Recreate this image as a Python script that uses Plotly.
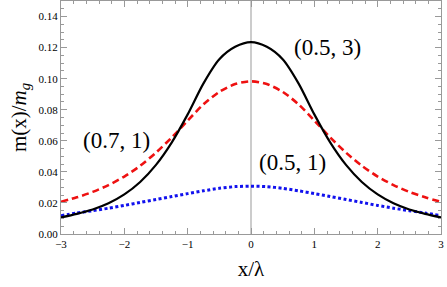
import plotly.graph_objects as go

# x positions (x/lambda)
x_vals = [-3.0, -2.75, -2.5, -2.25, -2.0, -1.75, -1.5, -1.25, -1.0, -0.75, -0.5, -0.25,
          0.0, 0.25, 0.5, 0.75, 1.0, 1.25, 1.5, 1.75, 2.0, 2.25, 2.5, 2.75, 3.0]

# half profiles (x = 0 .. 3), curves are symmetric
black_half = [0.1235, 0.1205, 0.1125, 0.097, 0.077, 0.059, 0.0445, 0.0335, 0.0255, 0.0198, 0.0158, 0.0130, 0.0107]
red_half = [0.0983, 0.0965, 0.0915, 0.0835, 0.073, 0.0622, 0.0524, 0.0439, 0.0370, 0.0315, 0.0271, 0.0236, 0.0207]
blue_half = [0.0308, 0.0305, 0.0294, 0.0278, 0.026, 0.0241, 0.0222, 0.0203, 0.0184, 0.0166, 0.0150, 0.0135, 0.0118]

black_y = black_half[::-1] + black_half[1:]
red_y = red_half[::-1] + red_half[1:]
blue_y = blue_half[::-1] + blue_half[1:]

labels = ["(0.5, 3)", "(0.7, 1)", "(0.5, 1)"]
label_x = [1.2, -2.13, 0.65]
label_y = [0.120, 0.0605, 0.0458]

x_ticks = [-3, -2, -1, 0, 1, 2, 3]
y_ticks = [0.00, 0.02, 0.04, 0.06, 0.08, 0.10, 0.12, 0.14]

font = "Liberation Serif"

fig = go.Figure()
fig.add_trace(go.Scatter(x=x_vals, y=red_y, mode="lines", line=dict(color="#ee1111", width=2.6, dash="7px,4px", shape="spline", smoothing=0.8)))
fig.add_trace(go.Scatter(x=x_vals, y=blue_y, mode="lines", line=dict(color="#1111ee", width=3, dash="3px,2.5px", shape="spline", smoothing=0.8)))
fig.add_trace(go.Scatter(x=x_vals, y=black_y, mode="lines", line=dict(color="black", width=2.2, shape="spline", smoothing=0.8)))

for t, lx, ly in zip(labels, label_x, label_y):
    fig.add_annotation(x=lx, y=ly, text=t, showarrow=False, font=dict(family=font, size=23, color="black"))

fig.add_shape(type="line", x0=0, x1=0, y0=0, y1=0.15, xref="x", yref="y", line=dict(color="#999999", width=1), layer="below")

axis_common = dict(
    showgrid=False, zeroline=False, showline=True, linecolor="#999999", linewidth=1,
    mirror="ticks", ticks="inside", ticklen=6, tickcolor="#999999", tickwidth=1,
    tickfont=dict(family=font, size=11, color="black"), automargin=False,
)

fig.update_xaxes(range=[-3, 3], tickvals=x_ticks, minor=dict(dtick=0.2, ticks="inside", ticklen=3, tickcolor="#999999"),
                 title=dict(text="x/λ", font=dict(family=font, size=21, color="black"), standoff=12), **axis_common)
fig.update_yaxes(range=[0, 0.15], tickvals=y_ticks, tickformat=".2f", minor=dict(dtick=0.005, ticks="inside", ticklen=3, tickcolor="#999999"),
                 title=dict(text="m(x)/<i>m</i><sub><i>g</i></sub>", font=dict(family=font, size=21, color="black"), standoff=6), **axis_common)

fig.update_layout(width=447, height=287, margin=dict(l=61, r=6, t=1, b=53), showlegend=False,
                  plot_bgcolor="white", paper_bgcolor="white")

fig.write_html("out.html", config={"displayModeBar": False},
               post_script="document.body.style.margin='0';document.body.style.overflow='hidden';")
